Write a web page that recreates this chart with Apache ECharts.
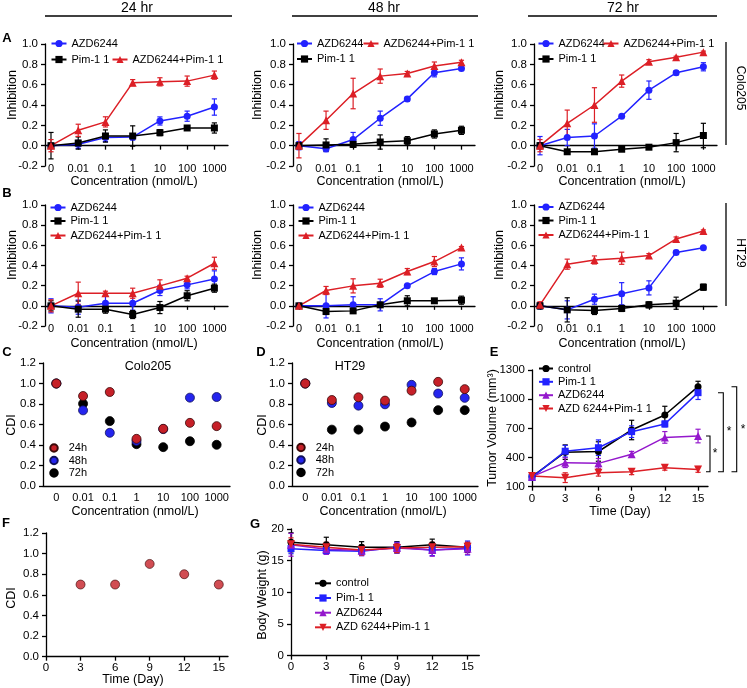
<!DOCTYPE html>
<html><head><meta charset="utf-8">
<script src="https://cdn.jsdelivr.net/npm/echarts@6/dist/echarts.min.js"></script>
<style>html,body{margin:0;padding:0;background:#fff}#c{width:747px;height:688px}</style>
</head><body><div id="c"></div>
<script>
// ---------------- DATA ----------------
const conc = ['0', '0.01', '0.1', '1', '10', '100', '1000'];
const concIdx = [0, 1, 2, 3, 4, 5, 6];

// A: Colo205 inhibition, 24 hr
const a24Azd = [0, 0.013, 0.08, 0.085, 0.243, 0.29, 0.38];
const a24AzdErr = [0.02, 0.04, 0.04, 0.03, 0.04, 0.05, 0.08];
const a24Pim = [0, 0.026, 0.095, 0.095, 0.128, 0.174, 0.174];
const a24PimErr = [0.13, 0.06, 0.06, 0.1, 0.03, 0.02, 0.05];
const a24Combo = [0, 0.151, 0.234, 0.62, 0.628, 0.635, 0.694];
const a24ComboErr = [0.06, 0.06, 0.05, 0.03, 0.04, 0.05, 0.04];
// A: 48 hr
const a48Azd = [0, -0.03, 0.06, 0.27, 0.46, 0.717, 0.76];
const a48AzdErr = [0.04, 0.03, 0.07, 0.07, 0.02, 0.04, 0.02];
const a48Pim = [0, 0.007, 0.013, 0.036, 0.049, 0.115, 0.151];
const a48PimErr = [0.03, 0.06, 0.03, 0.07, 0.04, 0.04, 0.04];
const a48Combo = [0, 0.25, 0.513, 0.684, 0.71, 0.783, 0.82];
const a48ComboErr = [0.12, 0.09, 0.15, 0.07, 0.02, 0.04, 0.02];
// A: 72 hr
const a72Azd = [0, 0.08, 0.095, 0.29, 0.546, 0.717, 0.776];
const a72AzdErr = [0.09, 0.08, 0.12, 0.01, 0.09, 0.02, 0.04];
const a72Pim = [0, -0.06, -0.06, -0.035, -0.015, 0.03, 0.1];
const a72PimErr = [0.03, 0.01, 0.01, 0.01, 0.01, 0.09, 0.12];
const a72Combo = [0, 0.22, 0.4, 0.635, 0.826, 0.87, 0.92];
const a72ComboErr = [0.06, 0.13, 0.17, 0.06, 0.02, 0.01, 0.01];

// B: HT29 inhibition, 24 hr
const b24Azd = [0, -0.013, 0.026, 0.026, 0.152, 0.208, 0.267];
const b24AzdErr = [0.07, 0.07, 0.07, 0.07, 0.05, 0.04, 0.08];
const b24Pim = [0, -0.033, -0.033, -0.086, -0.017, 0.1, 0.175];
const b24PimErr = [0.05, 0.08, 0.04, 0.04, 0.06, 0.05, 0.04];
const b24Combo = [0, 0.125, 0.125, 0.125, 0.198, 0.274, 0.422];
const b24ComboErr = [0.06, 0.11, 0.02, 0.05, 0.06, 0.02, 0.06];
// B: 48 hr
const b48Azd = [0, 0, 0.01, 0.01, 0.198, 0.34, 0.416];
const b48AzdErr = [0.02, 0.12, 0.08, 0.06, 0.015, 0.03, 0.06];
const b48Pim = [0, -0.056, -0.05, 0.01, 0.05, 0.05, 0.056];
const b48PimErr = [0.02, 0.03, 0.02, 0.02, 0.05, 0.02, 0.04];
const b48Combo = [0, 0.152, 0.198, 0.224, 0.34, 0.439, 0.578];
const b48ComboErr = [0.01, 0.04, 0.07, 0.04, 0.03, 0.05, 0.01];
// B: 72 hr
const b72Azd = [0, -0.04, 0.066, 0.12, 0.178, 0.53, 0.575];
const b72AzdErr = [0.03, 0.09, 0.05, 0.11, 0.07, 0.02, 0.01];
const b72Pim = [0, -0.04, -0.046, -0.026, 0.01, 0.026, 0.185];
const b72PimErr = [0.03, 0.12, 0.04, 0.03, 0.03, 0.06, 0.03];
const b72Combo = [0.01, 0.413, 0.455, 0.472, 0.498, 0.663, 0.743];
const b72ComboErr = [0.03, 0.05, 0.04, 0.06, 0.02, 0.02, 0.01];

// C: CDI Colo205
const cdiColo24 = [1.0, 0.878, 0.917, 0.46, 0.558, 0.616, 0.584];
const cdiColo48 = [1.0, 0.738, 0.519, 0.44, 0.555, 0.862, 0.868];
const cdiColo72 = [1.0, 0.803, 0.633, 0.408, 0.379, 0.437, 0.402];
// D: CDI HT29
const cdiHt24 = [1.0, 0.839, 0.865, 0.833, 0.93, 1.016, 0.945];
const cdiHt48 = [1.0, 0.81, 0.784, 0.797, 0.987, 0.902, 0.86];
const cdiHt72 = [1.0, 0.55, 0.55, 0.58, 0.62, 0.74, 0.74];

// E: tumor volume (mm3)
const days = [0, 3, 6, 9, 12, 15];
const tvControl = [203, 455, 462, 683, 837, 1129];
const tvControlErr = [15, 75, 100, 100, 90, 55];
const tvPim = [195, 465, 501, 666, 745, 1067];
const tvPimErr = [15, 60, 80, 60, 30, 70];
const tvAzd = [203, 347, 340, 433, 607, 621];
const tvAzdErr = [15, 50, 50, 30, 60, 70];
const tvCombo = [210, 193, 244, 254, 295, 278];
const tvComboErr = [15, 50, 35, 30, 25, 30];

// F: in vivo CDI
const cdiDays = [3, 6, 9, 12, 15];
const cdiVivo = [0.7, 0.7, 0.9, 0.8, 0.7];

// G: body weight (g)
const bwControl = [17.9, 17.5, 17.1, 17.1, 17.5, 17.1];
const bwControlErr = [1.5, 1.2, 0.9, 0.9, 0.9, 0.8];
const bwPim = [16.9, 16.6, 16.5, 17.1, 16.7, 17.0];
const bwPimErr = [0.8, 0.6, 0.7, 0.8, 0.9, 1.1];
const bwAzd = [17.5, 16.8, 16.6, 17.0, 16.7, 16.9];
const bwAzdErr = [1.8, 0.8, 0.8, 0.8, 1.0, 0.9];
const bwCombo = [17.6, 17.1, 16.7, 17.0, 17.1, 17.2];
const bwComboErr = [1.0, 0.8, 0.8, 0.7, 0.8, 0.7];

const dayTicks = [0, 3, 6, 9, 12, 15];

// ---------------- STYLE / BUILD ----------------
const FONT = '"Liberation Sans", Arial, Helvetica, sans-serif';
const BLUE = '#2222ff', RED = '#dc1f26', BLACK = '#000000', PURPLE = '#9418cc';
const DOT_RED = '#c62028', DOT_BLUE = '#2424ee';
const AX = { color: '#000', width: 1.3 };
const TICK_FS = 11.5;

const grids = [], xAxes = [], yAxes = [], series = [], legends = [], graphics = [];

function addGrid(l, t, w, h) {
  grids.push({ left: l, top: t, width: w, height: h, outerBoundsMode: 'none', containLabel: false });
  return grids.length - 1;
}
function lbl(extra) {
  return Object.assign({ color: '#000', fontFamily: FONT, fontSize: TICK_FS }, extra);
}
function errSeries(xi, yi, data, color, cap, lw) {
  return {
    type: 'custom', name: '__err' + series.length, xAxisIndex: xi, yAxisIndex: yi, silent: true, z: 1,
    encode: { x: 0, y: 1 }, data: data,
    renderItem: function (params, api) {
      const x = api.value(0), y = api.value(1), e = api.value(2);
      const hi = api.coord([x, y + e]), lo = api.coord([x, y - e]);
      const st = { stroke: color, lineWidth: lw || 1.2 };
      return { type: 'group', children: [
        { type: 'line', shape: { x1: hi[0], y1: hi[1], x2: lo[0], y2: lo[1] }, style: st },
        { type: 'line', shape: { x1: hi[0] - cap, y1: hi[1], x2: hi[0] + cap, y2: hi[1] }, style: st },
        { type: 'line', shape: { x1: lo[0] - cap, y1: lo[1], x2: lo[0] + cap, y2: lo[1] }, style: st }
      ] };
    }
  };
}
function lineSeries(xi, yi, s, xs) {
  series.push(errSeries(xi, yi, s.mean.map((v, i) => [xs[i], v, s.err[i]]), s.color, 2.6));
  series.push({
    type: 'line', name: s.name, xAxisIndex: xi, yAxisIndex: yi, z: 3,
    data: s.mean.map((v, i) => [xs[i], v]),
    symbol: s.symbol, symbolSize: s.size, symbolRotate: s.rotate || 0, showSymbol: true,
    color: s.color, lineStyle: { color: s.color, width: 1.5 }, itemStyle: { color: s.color },
    emphasis: { disabled: true }, animation: false
  });
}
function addLegend(name, iconCx, cy, iw, ih, fs, padL) {
  const th = Math.max(ih, fs * 1.18);
  legends.push({
    data: [name], left: iconCx - iw / 2, top: cy - th / 2, itemWidth: iw, itemHeight: ih,
    padding: 0, itemGap: 0, selectedMode: false, orient: 'horizontal',
    formatter: n => n.split('|').pop(),
    textStyle: { color: '#000', fontSize: fs, fontFamily: FONT, padding: [0, 0, 0, padL || 0] }
  });
}
function txt(s, x, y, fs, opt) {
  opt = opt || {};
  graphics.push({
    type: 'text', x: x, y: y, rotation: opt.rot || 0, silent: true,
    style: { text: s, fill: '#000', font: (opt.bold ? 'bold ' : '') + fs + 'px ' + FONT,
      align: opt.align || 'center', verticalAlign: 'middle',
      textAlign: opt.align || 'center', textVerticalAlign: 'middle' }
  });
}
function gline(x1, y1, x2, y2, w) {
  graphics.push({ type: 'line', silent: true, shape: { x1, y1, x2, y2 }, style: { stroke: '#000', lineWidth: w || 1.3 } });
}
function gpoly(pts, w) {
  graphics.push({ type: 'polyline', silent: true, shape: { points: pts }, style: { stroke: '#000', lineWidth: w || 1.1, fill: null } });
}

function inhibSets(azd, azdE, pim, pimE, combo, comboE) {
  return [
    { name: 'AZD6244', mean: azd, err: azdE, color: BLUE, symbol: 'circle', size: 7 },
    { name: 'Pim-1 1', mean: pim, err: pimE, color: BLACK, symbol: 'rect', size: 7 },
    { name: 'AZD6244+Pim-1 1', mean: combo, err: comboE, color: RED, symbol: 'triangle', size: 8 }
  ];
}
function inhibPanel(l, t, w, h, sets) {
  const g = addGrid(l, t, w, h);
  xAxes.push({
    gridIndex: g, type: 'value', min: -0.22, max: 6.5, splitLine: { show: false },
    axisLine: { show: true, onZero: true, lineStyle: AX },
    axisTick: { show: true, length: 4, customValues: concIdx, lineStyle: AX },
    axisLabel: lbl({ customValues: concIdx, formatter: v => conc[Math.round(v)], margin: -3, fontSize: 11 })
  });
  yAxes.push({
    gridIndex: g, type: 'value', min: -0.2, max: 1.0, interval: 0.2, splitLine: { show: false },
    axisLine: { show: true, onZero: false, lineStyle: AX },
    axisTick: { show: true, length: 4, lineStyle: AX },
    axisLabel: lbl({ formatter: v => v.toFixed(1), margin: 7 })
  });
  const xi = xAxes.length - 1, yi = yAxes.length - 1;
  sets.forEach(s => lineSeries(xi, yi, s, concIdx));
}

// A row
inhibPanel(45, 44, 183, 122, inhibSets(a24Azd, a24AzdErr, a24Pim, a24PimErr, a24Combo, a24ComboErr));
inhibPanel(293, 44, 182, 122, inhibSets(a48Azd, a48AzdErr, a48Pim, a48PimErr, a48Combo, a48ComboErr));
inhibPanel(534, 44, 183, 122, inhibSets(a72Azd, a72AzdErr, a72Pim, a72PimErr, a72Combo, a72ComboErr));
// B row
inhibPanel(45, 205, 183, 121, inhibSets(b24Azd, b24AzdErr, b24Pim, b24PimErr, b24Combo, b24ComboErr));
inhibPanel(293, 205, 182, 121, inhibSets(b48Azd, b48AzdErr, b48Pim, b48PimErr, b48Combo, b48ComboErr));
inhibPanel(534, 205, 183, 121, inhibSets(b72Azd, b72AzdErr, b72Pim, b72PimErr, b72Combo, b72ComboErr));

// legends A/B
const LFS = 11;
addLegend('AZD6244', 58, 44.5, 15, 9, LFS);
addLegend('Pim-1 1', 58, 60.5, 15, 9, LFS);
addLegend('AZD6244+Pim-1 1', 119, 60.5, 15, 9, LFS);
addLegend('AZD6244', 303.5, 44.5, 15, 9, LFS);
addLegend('AZD6244+Pim-1 1', 370, 44.5, 15, 9, LFS);
addLegend('Pim-1 1', 303.5, 60, 15, 9, LFS);
addLegend('AZD6244', 545, 44.5, 15, 9, LFS);
addLegend('AZD6244+Pim-1 1', 610, 44.5, 15, 9, LFS);
addLegend('Pim-1 1', 545, 60, 15, 9, LFS);
[[57, 208.5], [305, 208.5], [545, 208]].forEach(p => {
  addLegend('AZD6244', p[0], p[1], 15, 9, LFS);
  addLegend('Pim-1 1', p[0], p[1] + 13.5, 15, 9, LFS);
  addLegend('AZD6244+Pim-1 1', p[0], p[1] + 28, 15, 9, LFS);
});

// C / D CDI panels
function cdiPanel(l, t, w, h, v24, v48, v72) {
  const g = addGrid(l, t, w, h);
  xAxes.push({
    gridIndex: g, type: 'category', data: conc, boundaryGap: true,
    axisLine: { show: true, onZero: false, lineStyle: AX }, axisTick: { show: false },
    axisLabel: lbl({ margin: 6, fontSize: 11, interval: 0 }), splitLine: { show: false }
  });
  yAxes.push({
    gridIndex: g, type: 'value', min: 0, max: 1.2, interval: 0.2, splitLine: { show: false },
    axisLine: { show: true, onZero: false, lineStyle: AX }, axisTick: { show: true, length: 4, lineStyle: AX },
    axisLabel: lbl({ formatter: v => v.toFixed(1), margin: 7 })
  });
  const xi = xAxes.length - 1, yi = yAxes.length - 1;
  [['72h', v72, BLACK, '#000'], ['48h', v48, DOT_BLUE, '#10105a'], ['24h', v24, DOT_RED, '#3a0808']].forEach(s => {
    series.push({
      type: 'scatter', name: s[0], xAxisIndex: xi, yAxisIndex: yi, data: s[1], symbol: 'circle', symbolSize: 9,
      itemStyle: { color: s[2], borderColor: s[3], borderWidth: 0.8, opacity: 1 }, emphasis: { disabled: true }
    });
  });
}
cdiPanel(43, 363, 187, 123, cdiColo24, cdiColo48, cdiColo72);
cdiPanel(292, 363, 186, 123, cdiHt24, cdiHt48, cdiHt72);
[[53, 449], [300, 448.5]].forEach(p => {
  addLegend('24h', p[0], p[1], 7.5, 7.5, 11, 6);
  addLegend('48h', p[0], p[1] + 12.5, 7.5, 7.5, 11, 6);
  addLegend('72h', p[0], p[1] + 25, 7.5, 7.5, 11, 6);
});

// E tumor volume
(function () {
  const g = addGrid(532, 370, 176, 116.7);
  xAxes.push({
    gridIndex: g, type: 'value', min: 0, max: 15.9, splitLine: { show: false },
    axisLine: { show: true, onZero: false, lineStyle: AX },
    axisTick: { show: true, length: 4, customValues: dayTicks, lineStyle: AX },
    axisLabel: lbl({ customValues: dayTicks, margin: 6, formatter: v => String(v) })
  });
  yAxes.push({
    gridIndex: g, type: 'value', min: 100, max: 1300, interval: 300, splitLine: { show: false },
    axisLine: { show: true, onZero: false, lineStyle: AX }, axisTick: { show: true, length: 4, lineStyle: AX },
    axisLabel: lbl({ margin: 7, formatter: v => String(v) })
  });
  const xi = xAxes.length - 1, yi = yAxes.length - 1;
  [
    { name: 'v|control', mean: tvControl, err: tvControlErr, color: BLACK, symbol: 'circle', size: 7 },
    { name: 'v|Pim-1 1', mean: tvPim, err: tvPimErr, color: BLUE, symbol: 'rect', size: 7 },
    { name: 'v|AZD6244', mean: tvAzd, err: tvAzdErr, color: PURPLE, symbol: 'triangle', size: 8 },
    { name: 'v|AZD 6244+Pim-1 1', mean: tvCombo, err: tvComboErr, color: RED, symbol: 'triangle', size: 8, rotate: 180 }
  ].forEach(s => lineSeries(xi, yi, s, days));
})();
addLegend('v|control', 545, 369.5, 14, 9, LFS);
addLegend('v|Pim-1 1', 545, 382.8, 14, 9, LFS);
addLegend('v|AZD6244', 545, 396.2, 14, 9, LFS);
addLegend('v|AZD 6244+Pim-1 1', 545, 409.5, 14, 9, LFS);

// F CDI in vivo
(function () {
  const g = addGrid(46, 533, 182, 123.7);
  xAxes.push({
    gridIndex: g, type: 'value', min: 0, max: 15.8, splitLine: { show: false },
    axisLine: { show: true, onZero: false, lineStyle: AX },
    axisTick: { show: true, length: 4, customValues: dayTicks, lineStyle: AX },
    axisLabel: lbl({ customValues: dayTicks, margin: 5 })
  });
  yAxes.push({
    gridIndex: g, type: 'value', min: 0, max: 1.2, interval: 0.2, splitLine: { show: false },
    axisLine: { show: true, onZero: false, lineStyle: AX }, axisTick: { show: true, length: 4, lineStyle: AX },
    axisLabel: lbl({ formatter: v => v.toFixed(1), margin: 7 })
  });
  series.push({
    type: 'scatter', name: 'f|CDI', xAxisIndex: xAxes.length - 1, yAxisIndex: yAxes.length - 1,
    data: cdiDays.map((d, i) => [d, cdiVivo[i]]), symbol: 'circle', symbolSize: 9,
    itemStyle: { color: DOT_RED, borderColor: '#3a0808', borderWidth: 0.8 }, emphasis: { disabled: true }
  });
})();

// G body weight
(function () {
  const g = addGrid(291, 529, 188.3, 126.7);
  xAxes.push({
    gridIndex: g, type: 'value', min: 0, max: 16, splitLine: { show: false },
    axisLine: { show: true, onZero: false, lineStyle: AX },
    axisTick: { show: true, length: 4, customValues: dayTicks, lineStyle: AX },
    axisLabel: lbl({ customValues: dayTicks, margin: 5 })
  });
  yAxes.push({
    gridIndex: g, type: 'value', min: 0, max: 20, interval: 5, splitLine: { show: false },
    axisLine: { show: true, onZero: false, lineStyle: AX }, axisTick: { show: true, length: 4, lineStyle: AX },
    axisLabel: lbl({ margin: 7 })
  });
  const xi = xAxes.length - 1, yi = yAxes.length - 1;
  [
    { name: 'v|control', mean: bwControl, err: bwControlErr, color: BLACK, symbol: 'circle', size: 7 },
    { name: 'v|Pim-1 1', mean: bwPim, err: bwPimErr, color: BLUE, symbol: 'rect', size: 7 },
    { name: 'v|AZD6244', mean: bwAzd, err: bwAzdErr, color: PURPLE, symbol: 'triangle', size: 8 },
    { name: 'v|AZD 6244+Pim-1 1', mean: bwCombo, err: bwComboErr, color: RED, symbol: 'triangle', size: 8, rotate: 180 }
  ].forEach(s => lineSeries(xi, yi, s, days));
})();
addLegend('v|control', 322, 584.3, 16, 9, LFS);
addLegend('v|Pim-1 1', 322, 599, 16, 9, LFS);
addLegend('v|AZD6244', 322, 613.7, 16, 9, LFS);
addLegend('v|AZD 6244+Pim-1 1', 322, 628.3, 16, 9, LFS);

// ---------------- TEXT / ANNOTATIONS ----------------
txt('24 hr', 137, 8, 14); txt('48 hr', 384, 8, 14); txt('72 hr', 623, 8, 14);
gline(45, 16, 232, 16, 1.5); gline(292, 16, 478, 16, 1.5); gline(528, 16, 717, 16, 1.5);
txt('A', 7, 38, 13, { bold: true }); txt('B', 7, 193, 13, { bold: true });
txt('C', 7, 352, 13, { bold: true }); txt('D', 261, 352, 13, { bold: true });
txt('E', 494, 352, 13, { bold: true }); txt('F', 6, 523, 13, { bold: true });
txt('G', 255, 524, 13, { bold: true });
const R90 = Math.PI / 2;
[13, 258, 500].forEach(x => { txt('Inhibition', x, 95, 12.5, { rot: R90 }); txt('Inhibition', x, 255, 12.5, { rot: R90 }); });
[134, 380, 622].forEach(x => { txt('Concentration (nmol/L)', x, 182, 12.5); txt('Concentration (nmol/L)', x, 344, 12.5); });
txt('Concentration (nmol/L)', 135, 512, 12.5); txt('Concentration (nmol/L)', 383, 512, 12.5);
txt('Time (Day)', 620, 512, 12.5); txt('Time (Day)', 133, 680, 12.5); txt('Time (Day)', 380, 680, 12.5);
gline(726, 42, 726, 145, 1.3); txt('Colo205', 740, 88, 12, { rot: -R90 });
gline(726, 203, 726, 306, 1.3); txt('HT29', 740, 253, 12, { rot: -R90 });
txt('CDI', 12, 425, 12.5, { rot: R90 }); txt('CDI', 263, 425, 12.5, { rot: R90 }); txt('CDI', 12, 598, 12.5, { rot: R90 });
txt('Colo205', 148, 367, 12.5); txt('HT29', 350, 367, 12.5);
txt('Tumor Volume (mm³)', 493, 428, 12.5, { rot: R90 });
txt('Body Weight (g)', 263, 595, 12.5, { rot: R90 });
// significance brackets in E
gpoly([[706, 436], [710, 436], [710, 471.7], [706, 471.7]]); txt('*', 715, 454, 12);
gpoly([[718, 392.7], [723.3, 392.7], [723.3, 471.7], [718, 471.7]]); txt('*', 729, 432, 12);
gpoly([[731.5, 386.7], [736.7, 386.7], [736.7, 471.7], [731.5, 471.7]]); txt('*', 743, 430, 12);

const chart = echarts.init(document.getElementById('c'), null, { renderer: 'canvas' });
chart.setOption({
  animation: false, backgroundColor: '#fff',
  grid: grids, xAxis: xAxes, yAxis: yAxes, series: series, legend: legends,
  graphic: { elements: graphics }
});
</script></body></html>
